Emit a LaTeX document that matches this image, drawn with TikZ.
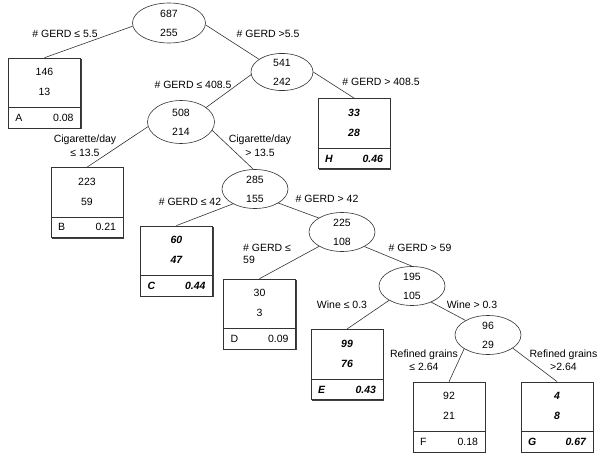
\documentclass[tikz,border=0pt]{standalone}
\usepackage{fontspec}
\setmainfont{Liberation Sans}
\usepackage{tikz}
\usetikzlibrary{shapes.geometric,shadows}

\begin{document}
\begin{tikzpicture}[x=1pt,y=-1pt,
    font=\fontsize{10.5}{14}\selectfont,
    split/.style={ellipse,draw=black!80,line width=0.6pt,fill=white,minimum width=66pt,minimum height=39pt,inner sep=0pt,align=center,font=\fontsize{10.5}{19}\selectfont},
    leaf/.style={rectangle,draw=black!80,line width=0.6pt,fill=white,minimum width=72pt,minimum height=70pt,inner sep=0pt,drop shadow={shadow xshift=1pt,shadow yshift=-1.2pt,fill=black!75,opacity=1}},
    hotleaf/.style={leaf,line width=0.9pt},
    count/.style={align=center,inner sep=0pt,font=\fontsize{10.5}{20}\selectfont},
    tag/.style={text width=58pt,inner sep=0pt},
    hot/.style={font=\fontsize{10.5}{20}\selectfont\bfseries\itshape},
    rule/.style={inner sep=0pt,align=center},
    edge/.style={draw=black!80,line width=0.6pt}]
    \useasboundingbox (0,0) rectangle (603,458);

    % Split nodes
    \node[split,minimum width=73pt,minimum height=40pt] (n687) at (169,23) {687\\255};
    \node[split,minimum width=62pt,minimum height=37pt] (n541) at (282,72) {541\\242};
    \node[split,minimum width=67pt,minimum height=43pt] (n508) at (181,122) {508\\214};
    \node[split] (n285) at (255,189) {285\\155};
    \node[split] (n225) at (342,232) {225\\108};
    \node[split] (n195) at (412,286) {195\\105};
    \node[split] (n96) at (488,335) {96\\29};

    % Leaf A
    \node[leaf] (A) at (44.5,93) {};
    \draw[edge] ([yshift=21pt]A.south west) -- ([yshift=21pt]A.south east);
    \node[count] (Anum) at ([yshift=-24.5pt]A.north) {146\\13};
    \node[tag] (Atag) at ([yshift=10.5pt]A.south) {A\hfill 0.08};

    % Leaf H
    \node[hotleaf] (H) at (354,133.5) {};
    \draw[edge,line width=0.9pt] ([yshift=21pt]H.south west) -- ([yshift=21pt]H.south east);
    \node[count,hot] (Hnum) at ([yshift=-24.5pt]H.north) {33\\28};
    \node[tag,hot] (Htag) at ([yshift=10.5pt]H.south) {H\hfill 0.46};

    % Leaf B
    \node[leaf] (B) at (87,202.5) {};
    \draw[edge] ([yshift=21pt]B.south west) -- ([yshift=21pt]B.south east);
    \node[count] (Bnum) at ([yshift=-24.5pt]B.north) {223\\59};
    \node[tag] (Btag) at ([yshift=10.5pt]B.south) {B\hfill 0.21};

    % Leaf C
    \node[hotleaf] (C) at (176.5,261) {};
    \draw[edge,line width=0.9pt] ([yshift=21pt]C.south west) -- ([yshift=21pt]C.south east);
    \node[count,hot] (Cnum) at ([yshift=-24.5pt]C.north) {60\\47};
    \node[tag,hot] (Ctag) at ([yshift=10.5pt]C.south) {C\hfill 0.44};

    % Leaf D
    \node[leaf] (D) at (259.5,314) {};
    \draw[edge] ([yshift=21pt]D.south west) -- ([yshift=21pt]D.south east);
    \node[count] (Dnum) at ([yshift=-24.5pt]D.north) {30\\3};
    \node[tag] (Dtag) at ([yshift=10.5pt]D.south) {D\hfill 0.09};

    % Leaf E
    \node[hotleaf] (E) at (347,364.5) {};
    \draw[edge,line width=0.9pt] ([yshift=21pt]E.south west) -- ([yshift=21pt]E.south east);
    \node[count,hot] (Enum) at ([yshift=-24.5pt]E.north) {99\\76};
    \node[tag,hot] (Etag) at ([yshift=10.5pt]E.south) {E\hfill 0.43};

    % Leaf F
    \node[leaf] (F) at (449,417) {};
    \draw[edge] ([yshift=21pt]F.south west) -- ([yshift=21pt]F.south east);
    \node[count] (Fnum) at ([yshift=-24.5pt]F.north) {92\\21};
    \node[tag] (Ftag) at ([yshift=10.5pt]F.south) {F\hfill 0.18};

    % Leaf G
    \node[hotleaf] (G) at (557,417) {};
    \draw[edge,line width=0.9pt] ([yshift=21pt]G.south west) -- ([yshift=21pt]G.south east);
    \node[count,hot] (Gnum) at ([yshift=-24.5pt]G.north) {4\\8};
    \node[tag,hot] (Gtag) at ([yshift=10.5pt]G.south) {G\hfill 0.67};

    % Branches
    \draw[edge] (n687.185) -- (A.north);
    \draw[edge] (n687.357) -- (n541.151);
    \draw[edge] (n541.185) -- (n508.30);
    \draw[edge] (n541.0) -- (H.north);
    \draw[edge] (n508.188) -- (B.north);
    \draw[edge] (n508.345) -- (n285.95);
    \draw[edge] (n285.214) -- (C.north);
    \draw[edge] (n285.329) -- (n225.149);
    \draw[edge] (n225.212) -- (D.north);
    \draw[edge] (n225.327) -- (n195.90);
    \draw[edge] (n195.212) -- (E.north);
    \draw[edge] (n195.320) -- (n96.147);
    \draw[edge] (n96.210) -- (F.north);
    \draw[edge] (n96.332) -- (G.north);

    % Split rules
    \node[rule] (r687a) at (65,34) {\# GERD ≤ 5.5};
    \node[rule] (r687b) at (268,34) {\# GERD >5.5};
    \node[rule] (r541a) at (193,85) {\# GERD ≤ 408.5};
    \node[rule] (r541b) at (381,82) {\# GERD > 408.5};
    \node[rule] (r508a) at (85,146) {Cigarette/day\\≤ 13.5};
    \node[rule] (r508b) at (260,146) {Cigarette/day\\> 13.5};
    \node[rule] (r285a) at (190,202) {\# GERD ≤ 42};
    \node[rule] (r285b) at (327,199) {\# GERD > 42};
    \node[rule,align=left,anchor=west,font=\fontsize{10.5}{11.5}\selectfont] (r225a) at (243,254) {\# GERD ≤\\59};
    \node[rule] (r225b) at (420,248) {\# GERD > 59};
    \node[rule] (r195a) at (342,305) {Wine ≤ 0.3};
    \node[rule] (r195b) at (472,305) {Wine > 0.3};
    \node[rule,font=\fontsize{10.5}{13}\selectfont] (r96a) at (424,360.5) {Refined grains\\≤ 2.64};
    \node[rule,font=\fontsize{10.5}{13}\selectfont] (r96b) at (563.5,360.5) {Refined grains\\>2.64};
\end{tikzpicture}
\end{document}
